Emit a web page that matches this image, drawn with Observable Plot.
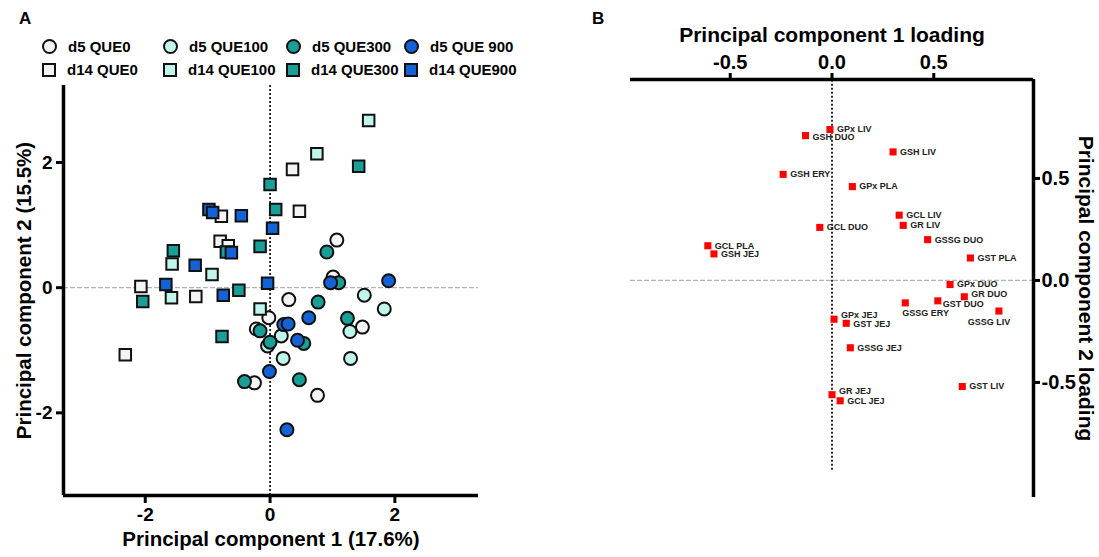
<!DOCTYPE html>
<html>
<head>
<meta charset="utf-8">
<script src="https://cdn.jsdelivr.net/npm/d3@7"></script>
<script src="https://cdn.jsdelivr.net/npm/@observablehq/plot@0.6"></script>
<style>
  body { margin: 0; background: #fff; font-family: "Liberation Sans", Arial, sans-serif; }
  #page { position: relative; width: 1099px; height: 557px; overflow: hidden; background: #fff; }
  .letter { position: absolute; font-weight: bold; font-size: 17px; color: #000; }
  #panelA, #panelB { position: absolute; top: 0; }
  #panelA { left: 0; }
  #panelB { left: 580px; }
  #legendA { position: absolute; left: 42px; top: 38px; display: grid;
    grid-template-columns: 121px 123px 118px 130px; row-gap: 6px;
    font-weight: bold; font-size: 15px; color: #000; }
  .item { display: flex; align-items: center; gap: 11px; height: 17px; white-space: nowrap; }
  .sym { display: inline-block; width: 10px; height: 10px; border: 2px solid #111; }
  .sym.c { width: 11px; height: 11px; border-radius: 50%; }
</style>
</head>
<body>
<div id="page">
  <div id="panelA"></div>
  <div id="panelB"></div>
  <div id="legendA"></div>
  <div class="letter" style="left:19px; top:9px;">A</div>
  <div class="letter" style="left:592px; top:9px;">B</div>
</div>
<script>
// ---------- Panel A data: PCA scores ----------
const groupsA = ["d5 QUE0", "d5 QUE100", "d5 QUE300", "d5 QUE 900",
                 "d14 QUE0", "d14 QUE100", "d14 QUE300", "d14 QUE900"];
const groupFills = ["#f4f4f4", "#bff5ea", "#1a9f98", "#1462d6",
                    "#f4f4f4", "#bff5ea", "#1a9f98", "#1462d6"];

const d5_QUE0   = [[1.07,0.76],[1.01,0.17],[0.30,-0.19],[-0.02,-0.48],[1.48,-0.63],[-0.22,-0.66],[-0.25,-1.52],[0.76,-1.72]];
const d5_QUE100 = [[1.51,-0.12],[1.83,-0.34],[1.28,-0.70],[0.18,-0.77],[-0.04,-0.93],[0.21,-1.13],[1.29,-1.13]];
const d5_QUE300 = [[0.91,0.57],[1.10,0.08],[0.77,-0.23],[1.24,-0.49],[-0.16,-0.69],[0.54,-0.89],[0.00,-0.87],[-0.41,-1.50],[0.47,-1.47]];
const d5_QUE900 = [[0.97,0.08],[1.90,0.11],[0.62,-0.48],[0.22,-0.59],[0.29,-0.58],[0.44,-0.84],[-0.01,-1.34],[0.27,-2.27]];
const d14_QUE0   = [[0.36,1.89],[-0.78,1.14],[0.47,1.22],[-0.80,0.74],[-0.67,0.67],[-2.07,0.02],[-1.19,-0.14],[-2.32,-1.07]];
const d14_QUE100 = [[1.58,2.67],[0.75,2.14],[-1.57,0.38],[-0.93,0.21],[-1.58,-0.16],[-0.16,-0.34]];
const d14_QUE300 = [[0.00,1.65],[0.09,1.25],[1.42,1.94],[-0.70,0.57],[-0.16,0.66],[-1.55,0.59],[-0.50,-0.04],[-2.04,-0.22],[-0.77,-0.78]];
const d14_QUE900 = [[-0.98,1.25],[-0.92,1.20],[-0.46,1.15],[0.04,0.95],[-0.62,0.56],[-1.20,0.36],[-1.67,0.05],[-0.04,0.07],[-0.75,-0.12]];

const xTicksA = [-2, 0, 2];
const yTicksA = [-2, 0, 2];
const xLabelA = "Principal component 1 (17.6%)";
const yLabelA = "Principal component 2 (15.5%)";

// ---------- Panel B data: loadings ----------
const loadingNames = ["GPx LIV","GSH DUO","GSH LIV","GSH ERY","GPx PLA","GCL LIV","GR LIV","GCL DUO",
  "GSSG DUO","GCL PLA","GSH JEJ","GST PLA","GPx DUO","GR DUO","GST DUO","GSSG ERY","GSSG LIV",
  "GPx JEJ","GST JEJ","GSSG JEJ","GST LIV","GR JEJ","GCL JEJ"];
const pc1Loading = [-0.01,-0.13,0.30,-0.24,0.10,0.33,0.35,-0.06,
  0.47,-0.61,-0.58,0.68,0.58,0.65,0.52,0.36,0.82,
  0.01,0.07,0.09,0.64,0.00,0.04];
const pc2Loading = [0.74,0.71,0.63,0.52,0.46,0.32,0.27,0.26,
  0.20,0.17,0.13,0.11,-0.02,-0.08,-0.10,-0.11,-0.15,
  -0.19,-0.21,-0.33,-0.52,-0.56,-0.59];
const xTicksB = [-0.5, 0, 0.5];
const yTicksB = [-0.5, 0, 0.5];
const xLabelB = "Principal component 1 loading";
const yLabelB = "Principal component 2 loading";

// ---------- build tables ----------
const seriesA = [d5_QUE0, d5_QUE100, d5_QUE300, d5_QUE900, d14_QUE0, d14_QUE100, d14_QUE300, d14_QUE900];
const pointsA = groupsA.flatMap((g, i) => seriesA[i].map(([x, y]) => ({group: g, day: i < 4 ? "d5" : "d14", x, y})));
const loadings = loadingNames.map((name, i) => ({name, x: pc1Loading[i], y: pc2Loading[i]}));

const font = "'Liberation Sans', Arial, sans-serif";

// ---------- Panel A ----------
const xDomA = [-3.31, 3.34];
const yDomA = [-3.32, 3.23];
const plotA = Plot.plot({
  width: 560, height: 557,
  marginLeft: 63, marginRight: 82, marginTop: 85, marginBottom: 62,
  style: {fontFamily: font, color: "#000", background: "transparent", overflow: "visible"},
  x: {domain: xDomA, label: null},
  y: {domain: yDomA, label: null},
  color: {domain: groupsA, range: groupFills},
  symbol: {domain: ["d5", "d14"], range: ["circle", "square"]},
  marks: [
    Plot.ruleY([0], {stroke: "#b4b4b4", strokeWidth: 1.2, strokeDasharray: "5,2"}),
    Plot.ruleX([0], {stroke: "#000", strokeWidth: 1.6, strokeDasharray: "2,2"}),
    Plot.dot(pointsA.filter(d => d.day === "d5"), {x: "x", y: "y", fill: "group", symbol: "day", r: 6.5, stroke: "#111", strokeWidth: 2}),
    Plot.dot(pointsA.filter(d => d.day === "d14"), {x: "x", y: "y", fill: "group", symbol: "day", r: 6.5, stroke: "#111", strokeWidth: 2}),
    Plot.ruleX([xDomA[0]], {stroke: "#000", strokeWidth: 3.5}),
    Plot.ruleY([yDomA[0]], {stroke: "#000", strokeWidth: 3.5}),
    Plot.axisX({anchor: "bottom", ticks: xTicksA, tickFormat: d => String(d), tickSize: 8, tickPadding: 4,
      strokeWidth: 3, fontSize: 19, fontWeight: "bold", label: null}),
    Plot.axisY({anchor: "left", ticks: yTicksA, tickFormat: d => String(d), tickSize: 7, tickPadding: 4,
      strokeWidth: 3, fontSize: 19, fontWeight: "bold", label: null}),
    Plot.text([xLabelA], {text: d => d, frameAnchor: "bottom", dy: 50, fontSize: 20.5, fontWeight: "bold"}),
    Plot.text([yLabelA], {text: d => d, frameAnchor: "left", dx: -39, rotate: -90, textAnchor: "middle", fontSize: 20.5, fontWeight: "bold"})
  ]
});
document.getElementById("panelA").appendChild(plotA);

// legend (HTML)
const legend = document.getElementById("legendA");
groupsA.forEach((g, i) => {
  const item = document.createElement("div");
  item.className = "item";
  const s = document.createElement("span");
  s.className = "sym" + (i < 4 ? " c" : "");
  s.style.background = groupFills[i];
  const t = document.createElement("span");
  t.textContent = g;
  item.appendChild(s); item.appendChild(t);
  legend.appendChild(item);
});

// ---------- Panel B ----------
const xDomB = [-0.99, 0.99];
const yDomB = [-1.064, 0.985];
const zeroLineBottomB = -0.93;
const labelStyle = {x: "x", y: "y", text: "name", fontSize: 9, fontWeight: "bold", fill: "#222", textAnchor: "start"};
const special = {
  "GSSG ERY": {dx: -3, dy: 10, textAnchor: "start"},
  "GSSG LIV": {dx: -10, dy: 11, textAnchor: "middle"},
  "GST DUO": {dx: 5, dy: 3},
  "GR DUO": {dx: 7, dy: -3},
  "GR JEJ": {dx: 7, dy: -4},
  "GPx JEJ": {dx: 7, dy: -4},
  "GST JEJ": {dx: 7, dy: 1},
  "GSH DUO": {dx: 7, dy: 2}
};
const plotB = Plot.plot({
  width: 519, height: 557,
  marginLeft: 50, marginRight: 66, marginTop: 79, marginBottom: 60,
  style: {fontFamily: font, color: "#000", background: "transparent", overflow: "visible"},
  x: {domain: xDomB, label: null},
  y: {domain: yDomB, label: null},
  marks: [
    Plot.ruleY([0], {stroke: "#b4b4b4", strokeWidth: 1.2, strokeDasharray: "5,2"}),
    Plot.ruleX([0], {y1: zeroLineBottomB, y2: yDomB[1], stroke: "#000", strokeWidth: 1.6, strokeDasharray: "2,2"}),
    Plot.dot(loadings, {x: "x", y: "y", symbol: "square", r: 4, fill: "#ff0000"}),
    Plot.text(loadings.filter(d => !special[d.name]), {...labelStyle, dx: 7}),
    ...Object.entries(special).map(([n, o]) =>
      Plot.text(loadings.filter(d => d.name === n), {...labelStyle, ...o})),
    Plot.ruleY([yDomB[1]], {stroke: "#000", strokeWidth: 3.5}),
    Plot.ruleX([xDomB[1]], {stroke: "#000", strokeWidth: 3.5}),
    Plot.axisX({anchor: "top", ticks: xTicksB, tickFormat: d => d.toFixed(1), tickSize: 7, tickPadding: 4,
      strokeWidth: 3, fontSize: 20, fontWeight: "bold", label: null}),
    Plot.axisY({anchor: "right", ticks: yTicksB, tickFormat: d => d.toFixed(1), tickSize: 6, tickPadding: 2,
      strokeWidth: 3, fontSize: 20, fontWeight: "bold", label: null}),
    Plot.text([xLabelB], {text: d => d, frameAnchor: "top", dy: -52, fontSize: 21, fontWeight: "bold"}),
    Plot.text([yLabelB], {text: d => d, frameAnchor: "right", dx: 52, rotate: 90, textAnchor: "middle", fontSize: 21, fontWeight: "bold"})
  ]
});
document.getElementById("panelB").appendChild(plotB);
</script>
</body>
</html>
